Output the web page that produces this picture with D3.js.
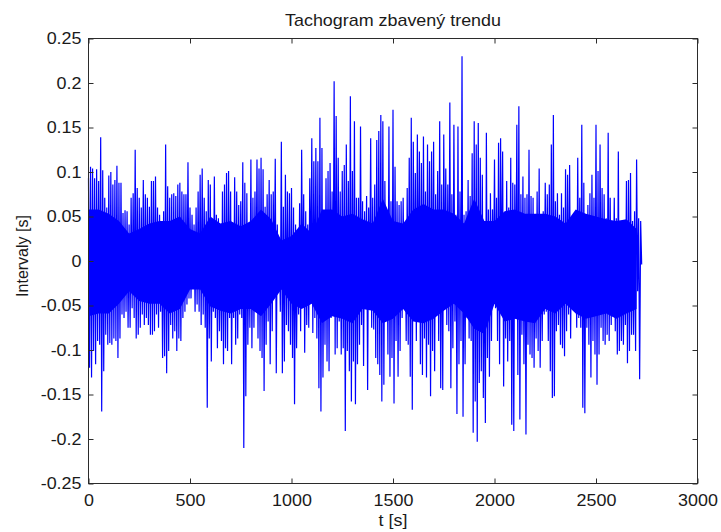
<!DOCTYPE html>
<html><head><meta charset="utf-8">
<script src="https://cdn.jsdelivr.net/npm/d3@7"></script>
<style>body{margin:0;background:#fff}svg{display:block}</style>
</head><body><svg id="chart" width="721" height="532"></svg>
<script>
// ---- data ----
const chartTitle = "Tachogram zbavený trendu";
const xLabel = "t [s]";
const yLabel = "Intervaly [s]";
const xDomain = [0, 3000];
const yDomain = [-0.25, 0.25];
const xTickValues = [0, 500, 1000, 1500, 2000, 2500, 3000];
const yTickValues = [-0.25, -0.2, -0.15, -0.1, -0.05, 0, 0.05, 0.1, 0.15, 0.2, 0.25];
const yTickLabels = ["-0.25", "-0.2", "-0.15", "-0.1", "-0.05", "0", "0.05", "0.1", "0.15", "0.2", "0.25"];
// the signal, read as the upper and lower swing in every 10 s window (upper at window start, lower half a window later)
const windowSeconds = 10;
const upperSwing = [
0.093,0.106,0.104,0.093,0.103,0.090,0.139,0.102,0.071,0.060,0.096,0.100,0.086,0.091,0.107,0.088,0.088,0.054,0.057,0.056,
0.041,0.071,0.076,0.125,0.082,0.071,0.060,0.091,0.075,0.071,0.061,0.090,0.090,0.095,0.060,0.052,0.033,0.056,0.131,0.084,
0.071,0.075,0.076,0.073,0.086,0.088,0.078,0.075,0.075,0.111,0.060,0.052,0.041,0.060,0.078,0.097,0.104,0.071,0.056,0.091,
0.086,0.045,0.095,0.052,0.048,0.030,0.078,0.086,0.099,0.101,0.078,0.041,0.094,0.078,0.063,0.067,0.111,0.088,0.076,0.026,
0.114,0.071,0.078,0.114,0.104,0.116,0.103,0.061,0.075,0.091,0.075,0.078,0.115,0.041,0.026,0.134,0.061,0.097,0.078,0.076,
0.082,0.060,0.041,0.026,0.065,0.125,0.075,0.056,0.041,0.093,0.138,0.112,0.127,0.112,0.161,0.127,0.056,0.093,0.101,0.110,
0.078,0.202,0.163,0.116,0.078,0.101,0.108,0.131,0.090,0.185,0.101,0.157,0.071,0.071,0.151,0.067,0.056,0.073,0.060,0.138,
0.071,0.086,0.136,0.146,0.164,0.157,0.090,0.046,0.151,0.067,0.170,0.106,0.067,0.063,0.067,0.071,0.039,0.082,0.116,0.161,
0.134,0.099,0.142,0.123,0.110,0.140,0.078,0.131,0.112,0.123,0.134,0.075,0.101,0.157,0.086,0.142,0.104,0.086,0.178,0.075,
0.153,0.052,0.151,0.078,0.230,0.052,0.056,0.091,0.073,0.121,0.157,0.131,0.155,0.116,0.097,0.024,0.144,0.058,0.076,0.058,
0.114,0.071,0.133,0.138,0.123,0.052,0.090,0.060,0.116,0.088,0.086,0.153,0.174,0.075,0.095,0.071,0.075,0.125,0.073,0.071,
0.018,0.078,0.104,0.033,0.056,0.088,0.075,0.086,0.131,0.164,0.067,0.076,0.052,0.076,0.060,0.103,0.097,0.108,0.048,0.026,
0.031,0.116,0.071,0.153,0.088,0.052,0.063,0.076,0.097,0.071,0.153,0.101,0.131,0.082,0.075,0.048,0.144,0.071,0.045,0.071,
0.048,0.123,0.041,0.018,0.026,0.090,0.091,0.099,0.045,0.056,0.114,0.048,0.045
];
const lowerSwing = [
-0.120,-0.131,-0.101,-0.116,-0.090,-0.094,-0.169,-0.124,-0.083,-0.094,-0.092,-0.094,-0.087,-0.090,-0.109,-0.087,-0.060,-0.064,-0.057,-0.075,
-0.075,-0.053,-0.064,-0.087,-0.083,-0.075,-0.060,-0.072,-0.064,-0.072,-0.083,-0.083,-0.079,-0.060,-0.075,-0.057,-0.109,-0.107,-0.126,-0.101,
-0.072,-0.087,-0.079,-0.101,-0.087,-0.090,-0.064,-0.057,-0.049,-0.042,-0.042,-0.030,-0.057,-0.049,-0.057,-0.072,-0.060,-0.075,-0.165,-0.087,
-0.113,-0.057,-0.064,-0.098,-0.079,-0.090,-0.116,-0.098,-0.101,-0.064,-0.116,-0.064,-0.094,-0.087,-0.060,-0.064,-0.210,-0.152,-0.094,-0.075,
-0.098,-0.075,-0.038,-0.087,-0.101,-0.109,-0.146,-0.094,-0.068,-0.116,-0.079,-0.027,-0.126,-0.027,-0.057,-0.126,-0.113,-0.072,-0.079,-0.094,
-0.109,-0.161,-0.098,-0.060,-0.079,-0.042,-0.103,-0.072,-0.075,-0.027,-0.081,-0.064,-0.087,-0.143,-0.169,-0.131,-0.094,-0.113,-0.124,-0.064,
-0.057,-0.105,-0.098,-0.068,-0.105,-0.098,-0.191,-0.101,-0.124,-0.158,-0.113,-0.161,-0.116,-0.094,-0.072,-0.118,-0.030,-0.145,-0.045,-0.075,
-0.077,-0.109,-0.116,-0.128,-0.158,-0.139,-0.064,-0.105,-0.130,-0.109,-0.160,-0.090,-0.130,-0.101,-0.064,-0.038,-0.090,-0.094,-0.130,-0.167,
-0.064,-0.090,-0.060,-0.116,-0.128,-0.087,-0.131,-0.094,-0.152,-0.101,-0.124,-0.060,-0.090,-0.143,-0.145,-0.042,-0.072,-0.079,-0.143,-0.098,
-0.068,-0.172,-0.116,-0.090,-0.175,-0.116,-0.064,-0.087,-0.090,-0.193,-0.158,-0.203,-0.137,-0.124,-0.154,-0.182,-0.109,-0.130,-0.090,-0.030,
-0.053,-0.090,-0.116,-0.049,-0.141,-0.087,-0.113,-0.090,-0.184,-0.191,-0.053,-0.128,-0.178,-0.083,-0.116,-0.195,-0.094,-0.105,-0.109,-0.120,
-0.087,-0.101,-0.120,-0.090,-0.060,-0.057,-0.090,-0.124,-0.154,-0.152,-0.079,-0.072,-0.094,-0.098,-0.107,-0.079,-0.060,-0.087,-0.042,-0.027,
-0.075,-0.064,-0.075,-0.165,-0.171,-0.075,-0.094,-0.131,-0.090,-0.105,-0.139,-0.105,-0.075,-0.090,-0.094,-0.083,-0.090,-0.072,-0.034,-0.079,
-0.105,-0.101,-0.090,-0.094,-0.072,-0.115,-0.101,-0.083,-0.083,-0.101,-0.034,-0.133,-0.004
];
// edges of the solidly filled core of the trace, read every 50 s
const bandSeconds = 50;
const denseUpper = [
0.058,0.058,0.053,0.045,0.031,0.036,0.042,0.045,0.045,0.050,0.036,0.031,0.050,0.042,0.045,0.039,0.045,0.058,0.047,0.023,
0.028,0.042,0.031,0.058,0.058,0.050,0.053,0.047,0.042,0.070,0.045,0.042,0.058,0.064,0.058,0.058,0.053,0.042,0.070,0.045,
0.045,0.056,0.058,0.053,0.053,0.053,0.050,0.042,0.058,0.053,0.050,0.047,0.045,0.047,0.036
];
const denseLower = [
-0.062,-0.059,-0.059,-0.048,-0.034,-0.045,-0.048,-0.048,-0.059,-0.054,-0.032,-0.032,-0.051,-0.056,-0.059,-0.054,-0.054,-0.062,-0.048,-0.032,
-0.048,-0.054,-0.048,-0.070,-0.062,-0.065,-0.070,-0.054,-0.056,-0.070,-0.065,-0.054,-0.068,-0.070,-0.065,-0.056,-0.048,-0.059,-0.076,-0.082,
-0.048,-0.068,-0.065,-0.068,-0.070,-0.054,-0.059,-0.048,-0.059,-0.065,-0.062,-0.059,-0.065,-0.059,-0.054
];

// ---- drawing ----
const svg = d3.select("#chart");
const box = {left: 88.5, right: 697.5, top: 38.5, bottom: 483.5};
const x = d3.scaleLinear().domain(xDomain).range([box.left, box.right]);
const y = d3.scaleLinear().domain(yDomain).range([box.bottom, box.top]);
const fontFam = "'Liberation Sans', Arial, Helvetica, sans-serif";
const textStretch = 1.12;
const axisColor = "#2b2b2b";
const traceColor = "#0000ff";

const series = [];
upperSwing.forEach((v, i) => {
  series.push({t: i * windowSeconds, v: v});
  series.push({t: i * windowSeconds + windowSeconds / 2, v: lowerSwing[i]});
});
const band = denseUpper.map((v, i) => ({t: i * bandSeconds, hi: v, lo: denseLower[i]}));

svg.append("rect").attr("width", 721).attr("height", 532).attr("fill", "#fff");

svg.append("path")
  .datum(band)
  .attr("fill", traceColor)
  .attr("d", d3.area().x(d => x(d.t)).y0(d => y(d.lo)).y1(d => y(d.hi)));

svg.append("path")
  .datum(series)
  .attr("fill", "none")
  .attr("stroke", traceColor)
  .attr("stroke-width", 1.2)
  .attr("d", d3.line().x(d => x(d.t)).y(d => y(d.v)));

function styleAxis(g) {
  g.selectAll(".domain").remove();
  g.selectAll(".tick line").attr("stroke", axisColor);
  g.selectAll(".tick text").attr("fill", "#1a1a1a").style("font-family", fontFam).style("font-size", "16px");
}

const gB = svg.append("g").attr("transform", `translate(0,${box.bottom})`)
  .call(d3.axisBottom(x).tickValues(xTickValues).tickFormat(d3.format("d")).tickSizeInner(-5).tickSizeOuter(0).tickPadding(11));
styleAxis(gB);
gB.selectAll(".tick text").attr("transform", `scale(${textStretch},1)`);

const gT = svg.append("g").attr("transform", `translate(0,${box.top})`)
  .call(d3.axisTop(x).tickValues(xTickValues).tickFormat("").tickSizeInner(-5).tickSizeOuter(0));
styleAxis(gT);

const gL = svg.append("g").attr("transform", `translate(${box.left},0)`)
  .call(d3.axisLeft(y).tickValues(yTickValues).tickFormat((d, i) => yTickLabels[i]).tickSizeInner(-5).tickSizeOuter(0).tickPadding(7));
styleAxis(gL);
gL.selectAll(".tick text").attr("x", -7 / textStretch).attr("transform", `scale(${textStretch},1)`);

const gR = svg.append("g").attr("transform", `translate(${box.right},0)`)
  .call(d3.axisRight(y).tickValues(yTickValues).tickFormat("").tickSizeInner(-5).tickSizeOuter(0));
styleAxis(gR);

svg.append("rect")
  .attr("x", box.left).attr("y", box.top)
  .attr("width", box.right - box.left).attr("height", box.bottom - box.top)
  .attr("fill", "none").attr("stroke", axisColor).attr("stroke-width", 1);

const cx = (box.left + box.right) / 2;
svg.append("text").text(chartTitle)
  .attr("transform", `translate(${cx},26) scale(${textStretch},1)`)
  .attr("text-anchor", "middle").attr("fill", "#1a1a1a")
  .style("font-family", fontFam).style("font-size", "16px");

svg.append("text").text(xLabel)
  .attr("transform", `translate(${cx},526) scale(${textStretch},1)`)
  .attr("text-anchor", "middle").attr("fill", "#1a1a1a")
  .style("font-family", fontFam).style("font-size", "16px");

svg.append("text").text(yLabel)
  .attr("transform", `translate(28,${(box.top + box.bottom) / 2 - 5}) rotate(-90)`)
  .attr("text-anchor", "middle").attr("fill", "#1a1a1a")
  .style("font-family", fontFam).style("font-size", "16px");
</script>
</body></html>
